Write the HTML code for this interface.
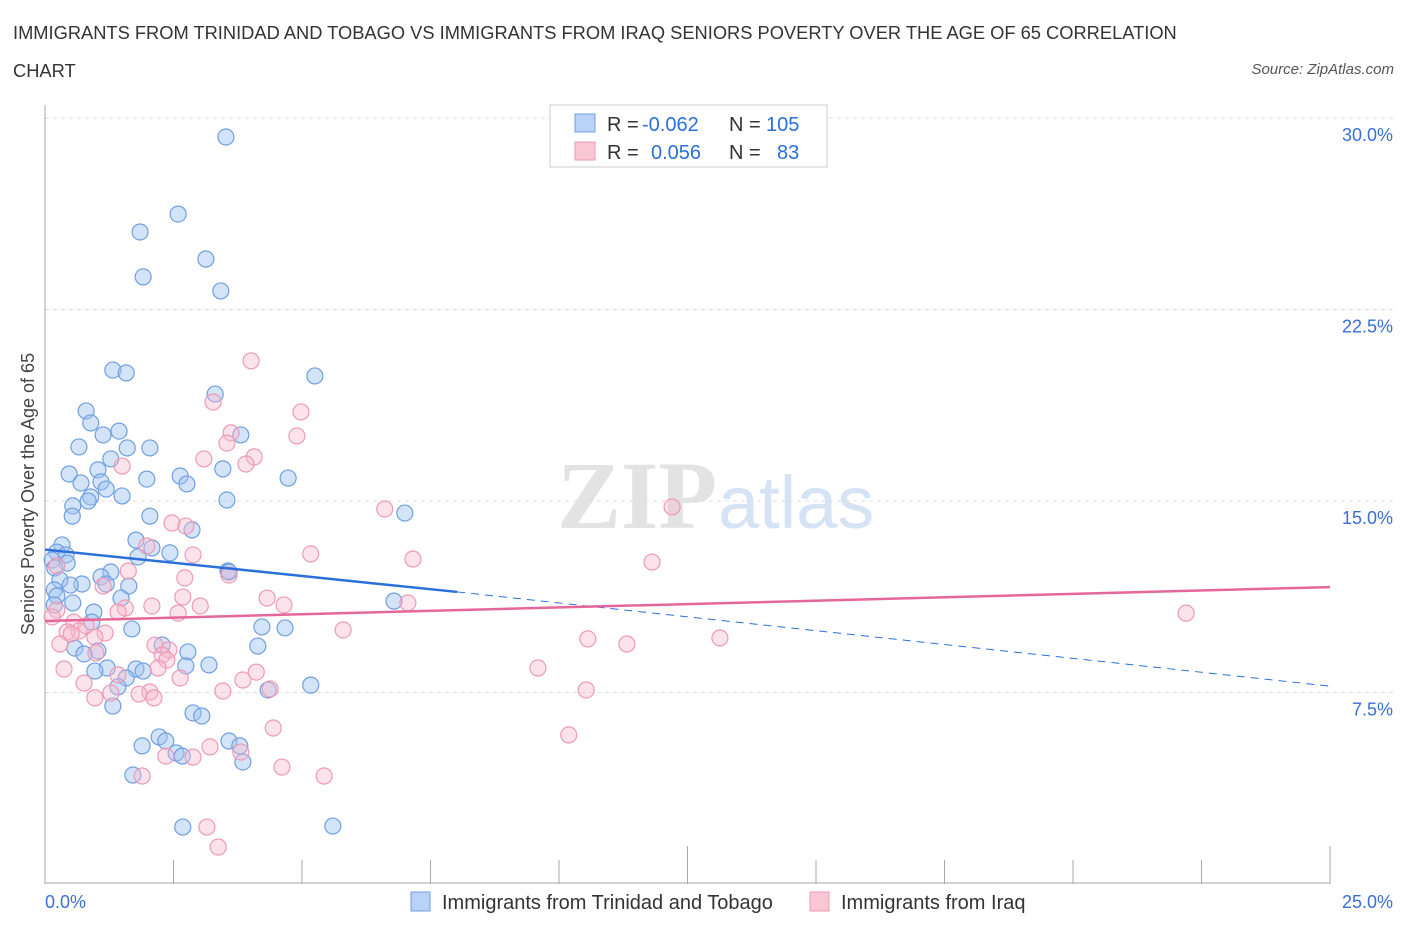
<!DOCTYPE html>
<html><head><meta charset="utf-8">
<style>
body{margin:0;background:#fff;font-family:"Liberation Sans",sans-serif;}
#wrap{position:relative;width:1406px;height:930px;overflow:hidden;}
.title{position:absolute;left:13px;top:14px;font-size:18.3px;color:#333;line-height:38px;letter-spacing:0px;}
.src{position:absolute;right:12px;top:61px;font-size:15px;color:#555;font-style:italic;}
</style></head>
<body>
<div id="wrap">
<div class="title">IMMIGRANTS FROM TRINIDAD AND TOBAGO VS IMMIGRANTS FROM IRAQ SENIORS POVERTY OVER THE AGE OF 65 CORRELATION<br>CHART</div>
<div class="src">Source: ZipAtlas.com</div>
<svg id="svg" width="1406" height="930" style="position:absolute;left:0;top:0"></svg>
</div>
<script>
const blueX=[3.52,2.59,1.85,3.13,1.91,3.42,1.32,1.58,5.25,3.31,0.80,0.89,1.44,1.13,3.81,0.66,1.60,2.04,1.28,1.03,3.46,0.47,2.63,4.73,1.98,0.70,1.09,2.76,1.19,0.89,1.50,3.54,0.54,0.84,2.04,7.00,0.53,2.86,1.77,0.33,2.08,2.43,1.81,0.23,0.41,0.14,0.43,0.19,3.56,1.28,1.09,3.58,0.29,0.72,1.19,1.63,0.18,0.49,0.23,1.48,6.79,0.54,0.18,0.95,0.91,1.69,4.22,4.67,0.58,1.03,2.28,2.78,4.14,0.76,1.21,0.97,1.77,1.91,2.74,3.19,1.58,1.42,4.34,5.17,1.32,2.88,3.05,3.58,3.79,2.22,1.89,2.35,2.55,2.67,3.85,1.71,2.68,5.60];
const blueY=[29.26,26.24,25.54,24.48,23.78,23.23,20.13,20.02,19.90,19.19,18.53,18.06,17.74,17.59,17.59,17.12,17.08,17.08,16.65,16.22,16.26,16.06,15.98,15.90,15.86,15.71,15.75,15.67,15.47,15.16,15.20,15.04,14.81,15.00,14.41,14.53,14.41,13.87,13.47,13.28,13.16,12.97,12.81,13.00,12.89,12.69,12.57,12.38,12.26,12.22,12.03,12.22,11.91,11.75,11.75,11.67,11.52,11.71,11.28,11.20,11.08,11.01,10.93,10.65,10.26,9.99,10.07,10.03,9.24,9.13,9.36,9.09,9.32,9.01,8.46,8.34,8.42,8.34,8.54,8.58,8.07,7.72,7.60,7.79,6.97,6.70,6.58,5.60,5.41,5.76,5.41,5.60,5.13,5.01,4.78,4.27,2.23,2.27];
const pinkX=[4.01,3.27,4.98,3.62,4.90,3.54,4.07,3.09,3.91,1.50,6.61,12.2,2.47,2.74,1.98,5.17,2.88,7.16,11.81,0.23,1.62,3.58,2.72,1.13,4.32,2.68,7.06,4.65,2.08,3.02,1.56,1.42,2.59,0.23,0.14,22.2,0.56,0.80,0.66,1.17,0.43,0.51,0.97,5.80,10.56,13.13,11.32,2.14,0.29,2.41,0.99,2.28,2.37,0.37,2.20,9.59,4.11,1.42,2.63,3.85,0.76,10.53,2.04,3.46,4.38,1.28,1.83,0.97,2.12,4.44,10.19,3.21,3.81,2.35,2.88,4.61,1.89,5.43,3.15,3.37];
const pinkY=[20.49,18.88,18.49,17.67,17.55,17.27,16.73,16.65,16.45,16.37,14.69,14.77,14.14,14.02,13.24,12.93,12.89,12.73,12.61,12.46,12.26,12.10,11.99,11.67,11.20,11.24,11.01,10.93,10.89,10.89,10.81,10.65,10.61,10.73,10.46,10.61,10.26,10.11,9.91,9.83,9.87,9.79,9.67,9.95,9.60,9.64,9.40,9.36,9.40,9.17,9.05,8.97,8.77,8.42,8.46,8.46,8.30,8.19,8.07,7.99,7.87,7.60,7.52,7.56,7.64,7.48,7.44,7.29,7.29,6.11,5.84,5.37,5.17,5.01,4.97,4.58,4.23,4.23,2.23,1.45];
const yTicks=[30,22.5,15,7.5];
const yTickLabels=["30.0%","22.5%","15.0%","7.5%"];
const blueTrend=[13.1,11.44,7.75];
const pinkTrend=[10.3,11.63];

const NS="http://www.w3.org/2000/svg";
const svg=document.getElementById('svg');
const X=v=>45+v*51.4, Y=v=>884-v*25.53;
function el(t,a,p){const e=document.createElementNS(NS,t);for(const k in a)e.setAttribute(k,a[k]);(p||svg).appendChild(e);return e;}

let w=el('text',{x:557,y:528,'font-family':'Liberation Serif,serif','font-size':96,fill:'#e3e3e3','font-weight':'bold'});w.textContent='ZIP';


let w2=el('text',{x:718,y:528,'font-family':'Liberation Sans,sans-serif','font-size':74,fill:'#d5e3f5'});w2.textContent='atlas';



yTicks.forEach((t,i)=>{
 const g=el('line',{x1:45,x2:1393,y1:Y(t),y2:Y(t),stroke:'#ddd','stroke-dasharray':'4,4'});
 
 
 const l=el('text',{x:1393,y:Y(t)+23,'text-anchor':'end','font-size':18,fill:'#3a6fd8'});l.textContent=yTickLabels[i];
 
 
});
el('line',{x1:45,x2:45,y1:105,y2:884,stroke:'#aaa'});
el('line',{x1:45,x2:1330,y1:883,y2:883,stroke:'#aaa'});
for(let i=0;i<=10;i++){const big=(i%5==0);const t=el('line',{x1:X(i*2.5),x2:X(i*2.5),y1:big?846:860,y2:884,stroke:'#aaa'});
 
 }
let xl=el('text',{x:45,y:908,'font-size':18,fill:'#3a6fd8'});xl.textContent='0.0%';


let xr=el('text',{x:1393,y:908,'font-size':18,fill:'#3a6fd8','text-anchor':'end'});xr.textContent='25.0%';


let yt=el('text',{x:0,y:0,'font-size':18,fill:'#444','text-anchor':'middle',transform:'translate(34,494) rotate(-90)'});yt.textContent='Seniors Poverty Over the Age of 65';



blueX.forEach((x,i)=>{const c=el('circle',{cx:X(x),cy:Y(blueY[i]),r:8,fill:'rgba(160,195,240,0.45)',stroke:'#6f9fe0','stroke-width':1.2});
 
 });
pinkX.forEach((x,i)=>{const c=el('circle',{cx:X(x),cy:Y(pinkY[i]),r:8,fill:'rgba(248,185,205,0.4)',stroke:'#ee9ab5','stroke-width':1.2});
 
 });

let b1=el('line',{x1:X(0),y1:Y(blueTrend[0]),x2:X(8.02),y2:Y(blueTrend[1]),stroke:'#2a6fdb','stroke-width':2.5});


let b2=el('line',{x1:X(8.02),y1:Y(blueTrend[1]),x2:X(25),y2:Y(blueTrend[2]),stroke:'#2a6fdb','stroke-width':1,'stroke-dasharray':'8,6'});


let p1=el('line',{x1:X(0),y1:Y(pinkTrend[0]),x2:X(25),y2:Y(pinkTrend[1]),stroke:'#e5679a','stroke-width':2.5});



const lg=el('g',{});


el('rect',{x:550,y:105,width:277,height:62,fill:'#fff',stroke:'#ccc'},lg);
el('rect',{x:575,y:114,width:20,height:18,fill:'#b9d2f5',stroke:'#6f9fe0'},lg);
el('rect',{x:575,y:142,width:20,height:18,fill:'#f9c6d6',stroke:'#ee9ab5'},lg);
function tx(x,y,s,c,p){const t=el('text',{x:x,y:y,'font-size':20,fill:c},p);t.textContent=s;return t;}
tx(607,131,'R =','#333',lg);tx(642,131,'-0.062','#2a6fdb',lg);tx(729,131,'N =','#333',lg);tx(766,131,'105','#2a6fdb',lg);
tx(607,159,'R =','#333',lg);tx(651,159,'0.056','#2a6fdb',lg);tx(729,159,'N =','#333',lg);tx(777,159,'83','#2a6fdb',lg);

el('rect',{x:411,y:892,width:19,height:19,fill:'#b9d2f5',stroke:'#6f9fe0'});
let lt1=tx(442,909,'Immigrants from Trinidad and Tobago','#333');


el('rect',{x:810,y:892,width:19,height:19,fill:'#f9c6d6',stroke:'#ee9ab5'});
let lt2=tx(841,909,'Immigrants from Iraq','#333');


</script>
</body></html>
